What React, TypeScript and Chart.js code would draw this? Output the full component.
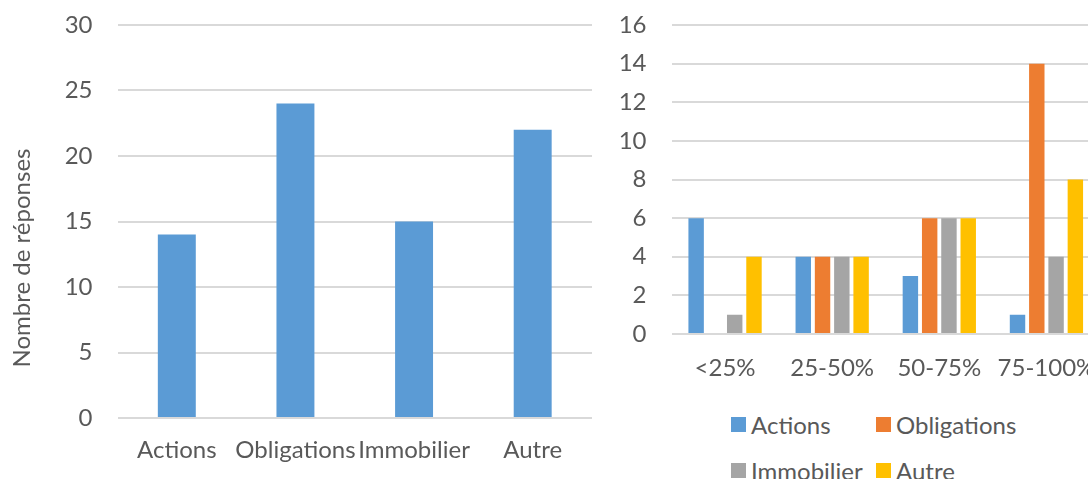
import React, { useEffect, useRef } from "react";
import { Chart, registerables } from "chart.js";

Chart.register(...registerables);

// Left panel: total answers per asset class
const ASSET_CATEGORIES = ["Actions", "Obligations", "Immobilier", "Autre"];
const ASSET_TOTALS = [14, 24, 15, 22];
const ASSET_Y_TITLE = "Nombre de réponses";
const ASSET_Y_MAX = 30;
const ASSET_Y_STEP = 5;

// Right panel: answers per share bracket, one series per asset class
const SHARE_BRACKETS = ["<25%", "25-50%", "50-75%", "75-100%"];
const SERIES_NAMES = ["Actions", "Obligations", "Immobilier", "Autre"];
const ACTIONS_VALUES = [6, 4, 3, 1];
const OBLIGATIONS_VALUES = [0, 4, 6, 14];
const IMMOBILIER_VALUES = [1, 4, 6, 4];
const AUTRE_VALUES = [4, 4, 6, 8];
const SHARE_Y_MAX = 16;
const SHARE_Y_STEP = 2;

const SERIES_COLORS = ["#5b9bd5", "#ed7d31", "#a5a5a5", "#ffc000"];

const FONT_FAMILY = "Lato, 'Open Sans', sans-serif";
const TEXT_COLOR = "#595959";
const GRID_COLOR = "#d9d9d9";

// Gaps between labels and the plot are made with invisible tick marks,
// so the tick padding does not push the plot area inwards.
const xAxis = (gap: number, height: number) => ({
  grid: { display: false, drawTicks: true, tickLength: gap },
  border: { display: false },
  ticks: {
    color: TEXT_COLOR,
    font: { family: FONT_FAMILY, size: 24 },
    padding: 0,
    maxRotation: 0,
    autoSkip: false,
  },
  afterFit: (s: any) => {
    s.height = height;
  },
});

const yAxis = (max: number, step: number, width: number) => ({
  min: 0,
  max,
  grid: {
    color: GRID_COLOR,
    lineWidth: 2,
    drawTicks: true,
    tickLength: 25,
    tickColor: "rgba(0,0,0,0)",
  },
  border: { display: false },
  ticks: {
    stepSize: step,
    color: TEXT_COLOR,
    font: { family: FONT_FAMILY, size: 24 },
    padding: 0,
  },
  afterFit: (s: any) => {
    s.width = width;
  },
});

export default function App() {
  const leftRef = useRef<HTMLCanvasElement | null>(null);
  const rightRef = useRef<HTMLCanvasElement | null>(null);

  useEffect(() => {
    if (!leftRef.current || !rightRef.current) return;

    const left = new Chart(leftRef.current, {
      type: "bar",
      data: {
        labels: ASSET_CATEGORIES,
        datasets: [
          {
            label: ASSET_Y_TITLE,
            data: ASSET_TOTALS,
            backgroundColor: SERIES_COLORS[0],
            barPercentage: 1,
            categoryPercentage: 0.32,
          },
        ],
      },
      options: {
        responsive: false,
        animation: false,
        layout: { padding: { top: 25, right: 8, left: 0, bottom: 0 } },
        plugins: {
          legend: { display: false },
          tooltip: { enabled: false },
          title: {
            display: true,
            text: ASSET_Y_TITLE,
            position: "left",
            color: TEXT_COLOR,
            font: { family: FONT_FAMILY, size: 24, weight: "normal" },
            padding: { top: 8, bottom: 4 },
          },
        },
        scales: {
          x: xAxis(17.6, 73),
          y: yAxis(ASSET_Y_MAX, ASSET_Y_STEP, 76.7),
        },
      } as any,
    });

    const seriesValues = [ACTIONS_VALUES, OBLIGATIONS_VALUES, IMMOBILIER_VALUES, AUTRE_VALUES];

    const right = new Chart(rightRef.current, {
      type: "bar",
      data: {
        labels: SHARE_BRACKETS,
        datasets: SERIES_NAMES.map((name, i) => ({
          label: name,
          data: seriesValues[i],
          backgroundColor: SERIES_COLORS[i],
          barPercentage: 0.8,
          categoryPercentage: 0.72,
        })),
      },
      options: {
        responsive: false,
        animation: false,
        layout: { padding: { top: 25, right: 0, left: 0, bottom: 0 } },
        plugins: {
          legend: { display: false },
          tooltip: { enabled: false },
        },
        scales: {
          x: xAxis(19.6, 66),
          y: yAxis(SHARE_Y_MAX, SHARE_Y_STEP, 71.5),
        },
      } as any,
    });

    return () => {
      left.destroy();
      right.destroy();
    };
  }, []);

  return (
    <div
      style={{
        position: "absolute",
        left: 0,
        top: 0,
        width: 1088,
        height: 479,
        overflow: "hidden",
        background: "#ffffff",
      }}
    >
      <canvas
        ref={leftRef}
        width={600}
        height={491}
        style={{ position: "absolute", left: 0, top: 0, display: "block" }}
      />
      <canvas
        ref={rightRef}
        width={500}
        height={400}
        style={{ position: "absolute", left: 600, top: 0, display: "block" }}
      />
      <div
        style={{
          position: "absolute",
          left: 731,
          top: 401,
          display: "grid",
          gridTemplateColumns: "145px auto",
          gridAutoRows: "46px",
          alignItems: "center",
          fontFamily: FONT_FAMILY,
          fontSize: 24,
          color: TEXT_COLOR,
          whiteSpace: "nowrap",
        }}
      >
        {SERIES_NAMES.map((name, i) => (
          <div key={name} style={{ display: "flex", alignItems: "center" }}>
            <span
              style={{
                display: "inline-block",
                width: 15,
                height: 15,
                background: SERIES_COLORS[i],
                marginRight: 5,
              }}
            />
            <span>{name}</span>
          </div>
        ))}
      </div>
    </div>
  );
}
